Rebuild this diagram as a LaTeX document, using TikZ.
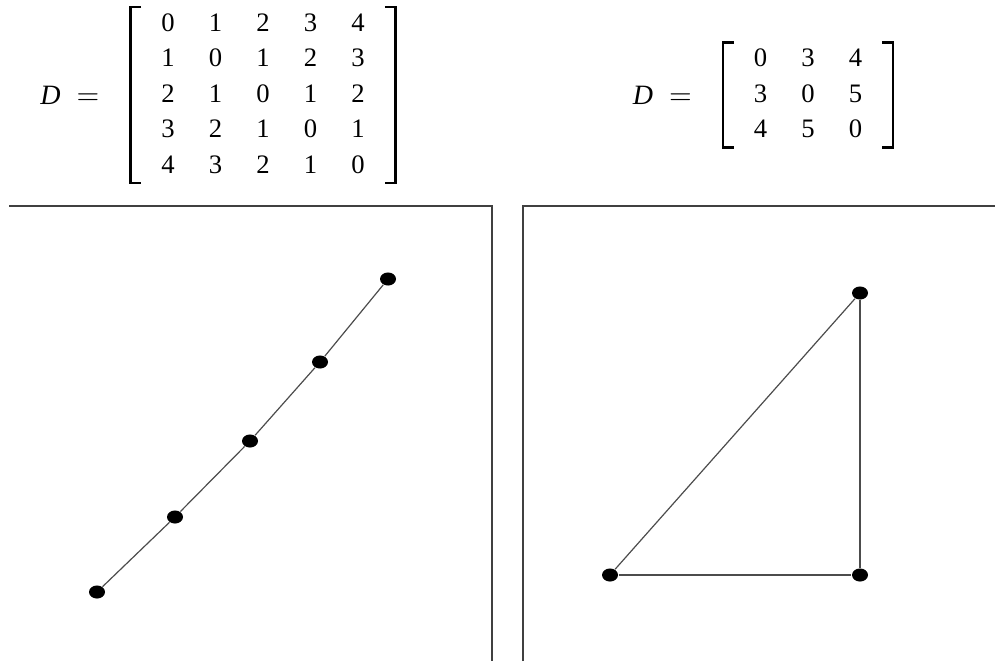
\documentclass[tikz,border=0pt]{standalone}
\usepackage{fontspec}
\setmainfont{Liberation Serif}
\usetikzlibrary{shapes.geometric, positioning}
\renewcommand{\arraystretch}{1.11}
\setlength{\tabcolsep}{6.4pt}

\begin{document}
\begin{tikzpicture}[x=0.375pt, y=-0.375pt]
    \tikzset{
		vertex/.style={fill=black, ellipse, minimum width=6pt, minimum height=4.9pt, inner sep=0pt},
		edge/.style={draw=black!70, line width=0.45pt},
		frame/.style={draw=black!75, line width=0.6pt},
		mat/.style={inner xsep=5pt, inner ysep=-0.5pt, font=\fontsize{10}{12}\selectfont},
		lhs/.style={inner sep=0pt, font=\fontsize{10.5}{12}\selectfont},
		bracket/.style={draw=black, line width=0.8pt}
	}
	\useasboundingbox (0,0) rectangle (995,661);

	% --- Matriz de la recta ---
	\node [mat] (mline) at (263,95) {\begin{tabular}{ccccc}
		0 & 1 & 2 & 3 & 4\\
		1 & 0 & 1 & 2 & 3\\
		2 & 1 & 0 & 1 & 2\\
		3 & 2 & 1 & 0 & 1\\
		4 & 3 & 2 & 1 & 0
	\end{tabular}};
	\node [lhs, left=11.5pt of mline] (dline) {\textit{D}\hspace{6pt}$=$};
	\draw [bracket] ([xshift=4pt]mline.north west) -- (mline.north west) -- (mline.south west) -- ++(4pt,0);
	\draw [bracket] ([xshift=-4pt]mline.north east) -- (mline.north east) -- (mline.south east) -- ++(-4pt,0);

	% --- Matriz del triangulo ---
	\node [mat] (mtri) at (808,95) {\begin{tabular}{ccc}
		0 & 3 & 4\\
		3 & 0 & 5\\
		4 & 5 & 0
	\end{tabular}};
	\node [lhs, left=11.5pt of mtri] (dtri) {\textit{D}\hspace{6pt}$=$};
	\draw [bracket] ([xshift=4pt]mtri.north west) -- (mtri.north west) -- (mtri.south west) -- ++(4pt,0);
	\draw [bracket] ([xshift=-4pt]mtri.north east) -- (mtri.north east) -- (mtri.south east) -- ++(-4pt,0);

	% --- Marcos ---
	\draw [frame] (9,206) -- (492,206) -- (492,661);
	\draw [frame] (523,661) -- (523,206) -- (995,206);

	% --- Puntos sobre la recta ---
	\node [vertex] (a1) at (97,592) {};
	\node [vertex] (a2) at (175,517) {};
	\node [vertex] (a3) at (250,441) {};
	\node [vertex] (a4) at (320,362) {};
	\node [vertex] (a5) at (388,279) {};
	\draw [edge] (a1) -- (a2) -- (a3) -- (a4) -- (a5);

	% --- Triangulo 3-4-5 ---
	\node [vertex] (b1) at (610,575) {};
	\node [vertex] (b2) at (860,575) {};
	\node [vertex] (b3) at (860,293) {};
	\draw [edge] (b1) -- (b2);
	\draw [edge] (b2) -- (b3);
	\draw [edge] (b3) -- (b1);
\end{tikzpicture}
\end{document}
